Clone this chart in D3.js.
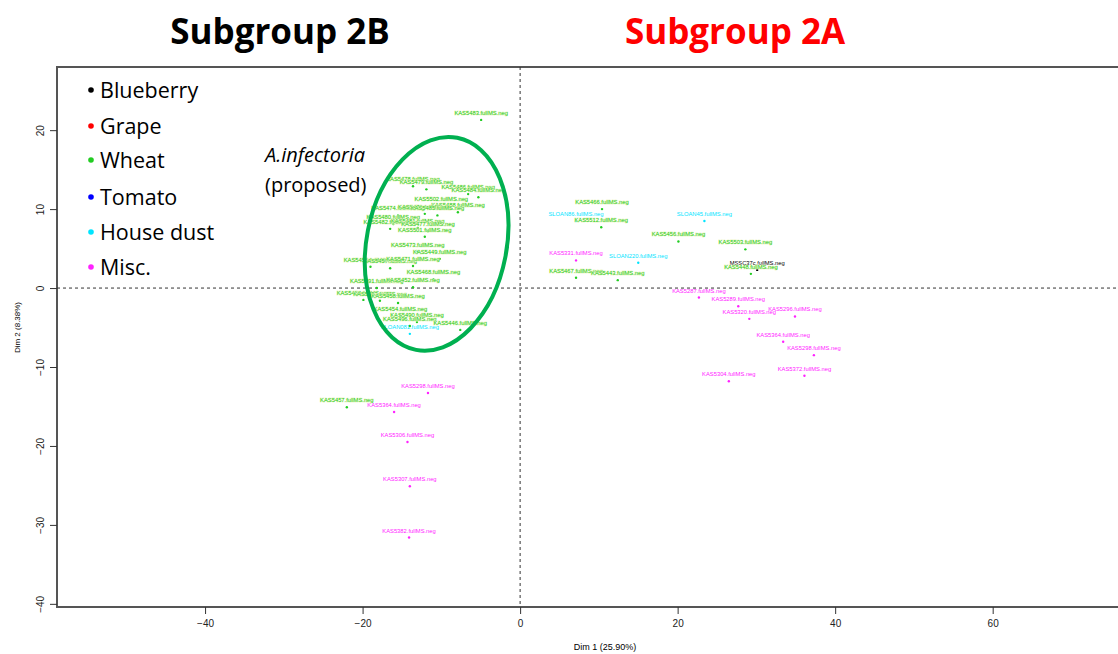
<!DOCTYPE html>
<html>
<head>
<meta charset="utf-8">
<script src="https://cdn.jsdelivr.net/npm/d3@7"></script>
<style>
  body { margin: 0; background: #fff; }
  svg { display: block; }
  .tick text { font-family: "Liberation Sans Narrow", "Liberation Sans", Arial, sans-serif; font-size: 10px; fill: #222; }
  .pt-label { font-family: "Liberation Sans", Arial, sans-serif; font-size: 5.8px; }
</style>
</head>
<body>
<div class="chart"></div>
<script>
// sample names, Dim 1, Dim 2 and source group
const names = [
  "KAS5483", "KAS5478", "KAS5479", "KAS5486", "KAS5484", "KAS5502", "KAS5488", "KAS5474",
  "KAS5476", "KAS5485", "KAS5480", "KAS5482", "KAS5481", "KAS5477", "KAS5501", "KAS5473",
  "KAS5449", "KAS5455", "KAS5457", "KAS5471", "KAS5468", "KAS5491", "KAS5452", "KAS5459",
  "KAS5453", "KAS5458", "KAS5454", "KAS5490", "KAS5496", "KAS5446", "SLOAN081",
  "KAS5466", "SLOAN86", "KAS5512", "SLOAN45", "KAS5456", "KAS5503", "KAS5331", "SLOAN220",
  "MSSC37c", "KAS5448", "KAS5467", "KAS5443",
  "KAS5287", "KAS5289", "KAS5320", "KAS5296", "KAS5364", "KAS5298", "KAS5372", "KAS5304",
  "KAS5298", "KAS5457", "KAS5364", "KAS5306", "KAS5307", "KAS5382"
];
const dim1 = [
  -4.95, -13.6, -11.9, -6.6, -5.3, -10.0, -7.9, -15.5,
  -12.1, -10.5, -16.1, -16.5, -13.0, -11.7, -12.1, -13.0,
  -10.2, -19.0, -16.5, -13.6, -11.0, -18.2, -13.6, -19.9,
  -17.8, -15.5, -15.2, -13.1, -14.0, -7.6, -14.0,
  10.4, 7.1, 10.3, 23.4, 20.1, 28.6, 7.1, 15.0,
  30.1, 29.3, 7.1, 12.4,
  22.7, 27.7, 29.1, 34.9, 33.4, 37.3, 36.1, 26.5,
  -11.7, -22.0, -16.0, -14.3, -14.0, -14.1
];
const dim2 = [
  21.3, 12.9, 12.5, 11.9, 11.5, 10.4, 9.6, 9.2,
  9.4, 9.2, 8.1, 7.5, 7.6, 7.2, 6.5, 4.6,
  3.7, 2.7, 2.5, 2.8, 1.1, 0.0, 0.1, -1.5,
  -1.6, -1.9, -3.5, -4.3, -4.8, -5.3, -5.8,
  10.0, 8.5, 7.7, 8.5, 5.9, 4.9, 3.5, 3.2,
  2.3, 1.8, 1.3, 1.0,
  -1.2, -2.3, -3.9, -3.6, -6.8, -8.5, -11.1, -11.8,
  -13.3, -15.1, -15.7, -19.5, -25.1, -31.6
];
const groups = [
  "Wheat", "Wheat", "Wheat", "Wheat", "Wheat", "Wheat", "Wheat", "Wheat",
  "Wheat", "Wheat", "Wheat", "Wheat", "Wheat", "Wheat", "Wheat", "Wheat",
  "Wheat", "Wheat", "Wheat", "Wheat", "Wheat", "Wheat", "Wheat", "Wheat",
  "Wheat", "Wheat", "Wheat", "Wheat", "Wheat", "Wheat", "House dust",
  "Wheat", "House dust", "Wheat", "House dust", "Wheat", "Wheat", "Misc.", "House dust",
  "Blueberry", "Wheat", "Wheat", "Wheat",
  "Misc.", "Misc.", "Misc.", "Misc.", "Misc.", "Misc.", "Misc.", "Misc.",
  "Misc.", "Wheat", "Misc.", "Misc.", "Misc.", "Misc."
];

const legendNames = ["Blueberry", "Grape", "Wheat", "Tomato", "House dust", "Misc."];
const legendColors = ["#000000", "#ff0000", "#22cc22", "#0000ff", "#00e5ff", "#ff22ff"];

const xTicks = [-40, -20, 0, 20, 40, 60];
const yTicks = [-40, -30, -20, -10, 0, 10, 20];

const svgWidth = 1118, svgHeight = 654;

const colorOf = d3.scaleOrdinal().domain(legendNames).range(legendColors);

const points = names.map((n, i) => ({ name: n, x: dim1[i], y: dim2[i], group: groups[i] }));

const xScale = d3.scaleLinear().domain([-58.8, 76.8]).range([57, 1125]);
const yScale = d3.scaleLinear().domain([-40.4, 28]).range([607, 67]);

const svg = d3.select(".chart").append("svg")
    .attr("width", svgWidth)
    .attr("height", svgHeight);

// titles
const titleFont = "'Open Sans', 'Noto Sans', sans-serif";
svg.append("text")
    .attr("x", 280).attr("y", 44)
    .attr("text-anchor", "middle")
    .style("font-family", titleFont)
    .style("font-weight", "bold").style("font-size", "35px")
    .text("Subgroup 2B");
svg.append("text")
    .attr("x", 735).attr("y", 44)
    .attr("text-anchor", "middle")
    .style("font-family", titleFont)
    .style("font-weight", "bold").style("font-size", "35px")
    .attr("fill", "#ff0000")
    .text("Subgroup 2A");

// frame
svg.append("path")
    .attr("d", `M${xScale.range()[1]},67H57V607H${xScale.range()[1]}`)
    .attr("fill", "none")
    .attr("stroke", "#555").attr("stroke-width", 2);

// axes
const xAxis = svg.append("g")
    .attr("transform", "translate(0,607)")
    .call(d3.axisBottom(xScale).tickValues(xTicks).tickSize(7).tickPadding(6));
xAxis.select(".domain").remove();

const yAxis = svg.append("g")
    .attr("transform", "translate(57,0)")
    .call(d3.axisLeft(yScale).tickValues(yTicks).tickSize(7));
yAxis.select(".domain").remove();
yAxis.selectAll(".tick text")
    .attr("transform", "rotate(-90)")
    .attr("x", 0).attr("y", -17)
    .attr("dy", "0.35em")
    .attr("text-anchor", "middle");

svg.selectAll(".tick line").attr("stroke", "#333");

svg.append("text")
    .attr("x", 605).attr("y", 650)
    .attr("text-anchor", "middle")
    .style("font-family", "'Liberation Sans Narrow', Arial, sans-serif")
    .style("font-size", "9px")
    .text("Dim 1 (25.90%)");
svg.append("text")
    .attr("transform", `translate(20,${yScale(-5)}) rotate(-90)`)
    .attr("text-anchor", "middle")
    .style("font-family", "'Liberation Sans', Arial, sans-serif")
    .style("font-size", "8px")
    .text("Dim 2 (8.38%)");

// dashed zero lines
svg.append("line")
    .attr("x1", xScale(0)).attr("x2", xScale(0))
    .attr("y1", 67).attr("y2", 607)
    .attr("stroke", "#333").attr("stroke-dasharray", "3,3");
svg.append("line")
    .attr("x1", 57).attr("x2", svgWidth)
    .attr("y1", yScale(0)).attr("y2", yScale(0))
    .attr("stroke", "#333").attr("stroke-dasharray", "3,3");

// points and their labels
const marks = svg.append("g").selectAll("g")
    .data(points)
    .enter().append("g");

marks.append("circle")
    .attr("cx", d => xScale(d.x))
    .attr("cy", d => yScale(d.y))
    .attr("r", 1.2)
    .attr("fill", d => colorOf(d.group));

marks.append("text")
    .classed("pt-label", true)
    .attr("x", d => xScale(d.x))
    .attr("y", d => yScale(d.y) - 5)
    .attr("text-anchor", "middle")
    .attr("fill", d => colorOf(d.group))
    .attr("stroke", d => d.group === "Wheat" ? "#eef6c8" : "none")
    .attr("stroke-width", 0.8)
    .attr("paint-order", "stroke")
    .text(d => d.name + ".fullMS.neg");

// proposed A. infectoria ellipse
const cx = xScale(-10.6), cy = yScale(5.6);
svg.append("ellipse")
    .attr("cx", cx).attr("cy", cy)
    .attr("rx", 70).attr("ry", 108)
    .attr("transform", `rotate(11,${cx},${cy})`)
    .attr("fill", "none")
    .attr("stroke", "#00b050").attr("stroke-width", 4);

const noteFont = "'Open Sans', 'Noto Sans', sans-serif";
svg.append("text")
    .attr("x", 265).attr("y", 162)
    .style("font-family", noteFont).style("font-size", "20px").style("font-style", "italic")
    .text("A.infectoria");
svg.append("text")
    .attr("x", 265).attr("y", 192)
    .style("font-family", noteFont).style("font-size", "20px")
    .text("(proposed)");

// legend
const legend = svg.append("g").selectAll("g")
    .data(legendNames)
    .enter().append("g")
    .attr("transform", (d, i) => `translate(91,${[90, 126, 160, 197, 232, 267][i]})`);
legend.append("circle")
    .attr("r", 2.8)
    .attr("fill", d => colorOf(d));
legend.append("text")
    .attr("x", 9).attr("dy", "0.35em")
    .style("font-family", noteFont).style("font-size", "21.5px")
    .text(d => d);
</script>
</body>
</html>
